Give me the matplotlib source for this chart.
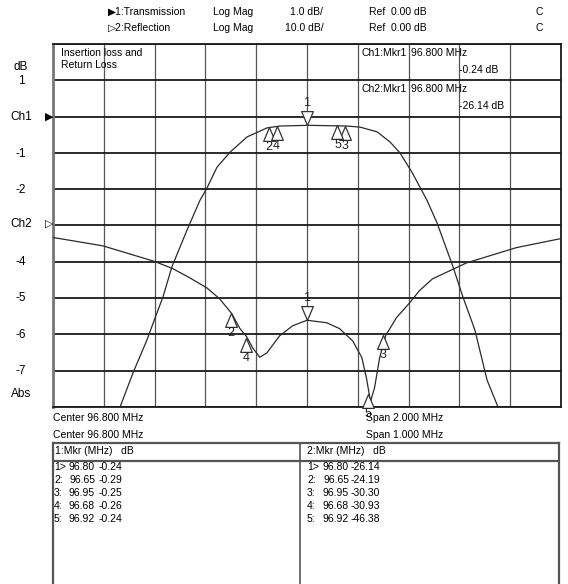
import matplotlib
matplotlib.use("Agg")
import matplotlib.pyplot as plt
from matplotlib.path import Path

plt.rcParams['font.family'] = ['Liberation Sans', 'DejaVu Sans']

# channel 1: transmission (S21), center 96.8 MHz, span 2 MHz, 1 dB/div
f1 = [95.800, 96.064, 96.115, 96.170, 96.209, 96.233, 96.268, 96.328, 96.379, 96.406,
      96.446, 96.497, 96.564, 96.643, 96.694, 96.804, 96.957, 97.009, 97.076, 97.127,
      97.166, 97.213, 97.272, 97.312, 97.375, 97.414, 97.461, 97.509, 97.552, 97.800]
s21 = [-8.0, -8.0, -7.06, -6.15, -5.41, -4.97, -4.14, -3.12, -2.30, -1.97,
       -1.39, -0.98, -0.56, -0.31, -0.26, -0.24, -0.26, -0.29, -0.42, -0.70,
       -1.00, -1.53, -2.30, -2.93, -4.14, -4.97, -5.88, -7.26, -8.0, -8.0]

# channel 2: reflection (S11), center 96.8 MHz, span 1 MHz, 10 dB/div
f2 = [96.300, 96.398, 96.500, 96.536, 96.569, 96.603, 96.628, 96.652, 96.668, 96.681,
      96.693, 96.707, 96.721, 96.746, 96.772, 96.800, 96.839, 96.864, 96.890, 96.908,
      96.917, 96.925, 96.933, 96.943, 96.955, 96.976, 97.002, 97.021, 97.047, 97.114,
      97.212, 97.300]
s11 = [-3.3, -5.6, -9.9, -11.9, -14.4, -17.2, -20.2, -24.3, -28.4, -30.6,
       -33.7, -36.3, -35.1, -30.4, -27.6, -26.1, -26.8, -28.4, -31.8, -36.4,
       -42.0, -48.5, -44.7, -36.4, -30.3, -25.4, -21.3, -18.0, -14.7, -10.3,
       -6.1, -3.6]

# markers
mkr_f = [96.80, 96.65, 96.95, 96.68, 96.92]
mkr1_db = [-0.24, -0.29, -0.25, -0.26, -0.24]
mkr2_db = [-26.14, -24.19, -30.30, -30.93, -46.38]

W, H = 568, 584
def px(x, y):
    return x / W, 1 - y / H

fig = plt.figure(figsize=(W / 100, H / 100), dpi=100)
fig.patch.set_facecolor('white')

rect = [53 / W, 1 - 407 / H, (561 - 53) / W, (407 - 44) / H]
ax = fig.add_axes(rect)
ax.set_xlim(95.8, 97.8)
ax.set_ylim(-8, 2)
ax.set_xticks([95.8 + 0.2 * k for k in range(11)])
ax.set_yticks(range(-8, 3))
ax.tick_params(length=0, labelbottom=False, labelleft=False)
ax.xaxis.grid(True, color='#555555', lw=0.9)
ax.yaxis.grid(True, color='#1a1a1a', lw=1.3)
ax.set_axisbelow(True)
for s in ['top', 'bottom', 'right']:
    ax.spines[s].set_color('#1a1a1a')
    ax.spines[s].set_linewidth(1.3)
ax.spines['left'].set_color('#777777')
ax.spines['left'].set_linewidth(2.0)

ax2 = fig.add_axes(rect)
ax2.set_xlim(96.3, 97.3)
ax2.set_ylim(-50, 50)
ax2.axis('off')
ax2.patch.set_alpha(0)

trace = dict(color='#2a2a2a', lw=0.9)
ax.plot(f1, s21, **trace)
ax2.plot(f2, s11, **trace)

up = Path([(0, 0), (-0.42, -1), (0.42, -1), (0, 0)], closed=True)
down = Path([(0, 0), (-0.42, 1), (0.42, 1), (0, 0)], closed=True)
mk = dict(ms=20, mfc='white', mec='#333333', mew=0.9, ls='none', clip_on=False)
tk = dict(fontsize=9, ha='center', color='#222222', annotation_clip=False)

for a, dbs in [(ax, mkr1_db), (ax2, mkr2_db)]:
    for i, (f, d) in enumerate(zip(mkr_f, dbs)):
        if i == 0:
            a.plot([f], [d], marker=down, **mk)
            a.annotate(str(i + 1), (f, d), xytext=(0, 12), textcoords='offset points',
                       va='bottom', **tk)
        else:
            a.plot([f], [d], marker=up, **mk)
            a.annotate(str(i + 1), (f, d), xytext=(0, -10), textcoords='offset points',
                       va='top', **tk)

fs = 7.5
# header
fig.text(*px(108, 12), '\u25b61:Transmission', fontsize=fs, va='center')
fig.text(*px(108, 28), '\u25b72:Reflection', fontsize=fs, va='center')
fig.text(*px(213, 12), 'Log Mag', fontsize=fs, va='center')
fig.text(*px(213, 28), 'Log Mag', fontsize=fs, va='center')
fig.text(*px(290, 12), '1.0 dB/', fontsize=fs, va='center')
fig.text(*px(285, 28), '10.0 dB/', fontsize=fs, va='center')
fig.text(*px(369, 12), 'Ref  0.00 dB', fontsize=fs, va='center')
fig.text(*px(369, 28), 'Ref  0.00 dB', fontsize=fs, va='center')
fig.text(*px(536, 12), 'C', fontsize=fs, va='center')
fig.text(*px(536, 28), 'C', fontsize=fs, va='center')

# cells inside the graticule
fig.text(*px(61, 53), 'Insertion loss and', fontsize=fs, va='center')
fig.text(*px(61, 65), 'Return Loss', fontsize=fs, va='center')
fig.text(*px(361, 53), 'Ch1:Mkr1', fontsize=fs, va='center')
fig.text(*px(411, 53), '96.800 MHz', fontsize=fs, va='center')
fig.text(*px(459, 70), '-0.24 dB', fontsize=fs, va='center')
fig.text(*px(361, 89), 'Ch2:Mkr1', fontsize=fs, va='center')
fig.text(*px(411, 89), '96.800 MHz', fontsize=fs, va='center')
fig.text(*px(459, 106), '-26.14 dB', fontsize=fs, va='center')

# left scale labels
left = [('dB', 67), ('1', 81), ('Ch1', 117), ('-1', 154), ('-2', 190), ('Ch2', 224),
        ('-4', 262), ('-5', 298), ('-6', 335), ('-7', 371), ('Abs', 394)]
for t, y in left:
    fig.text(*px(21, y), t, fontsize=8.5, ha='center', va='center')
fig.text(*px(49, 117), '\u25b6', fontsize=8, ha='center', va='center', family='DejaVu Sans')
fig.text(*px(49, 224), '\u25b7', fontsize=8, ha='center', va='center', family='DejaVu Sans')

# footer
fig.text(*px(53, 418), 'Center 96.800 MHz', fontsize=fs, va='center')
fig.text(*px(53, 435), 'Center 96.800 MHz', fontsize=fs, va='center')
fig.text(*px(366, 418), 'Span 2.000 MHz', fontsize=fs, va='center')
fig.text(*px(366, 435), 'Span 1.000 MHz', fontsize=fs, va='center')

# marker table
tab = fig.add_axes([53 / W, 0, (559 - 53) / W, (584 - 443) / H])
tab.set_xlim(0, 1)
tab.set_ylim(0, 1)
tab.set_xticks([])
tab.set_yticks([])
tab.spines['bottom'].set_visible(False)
for s in ['top', 'left', 'right']:
    tab.spines[s].set_color('#555555')
    tab.spines[s].set_linewidth(1.6)
tab.axhline(1 - (461 - 443) / (584 - 443), color='#555555', lw=1.6)
tab.axvline((300 - 53) / (559 - 53), color='#555555', lw=1.2)

fig.text(*px(55, 451), '1:Mkr (MHz)   dB', fontsize=fs, va='center')
fig.text(*px(307, 451), '2:Mkr (MHz)   dB', fontsize=fs, va='center')
rows_y = [467, 480, 493, 506, 519]
tags = ['1>', '2:', '3:', '4:', '5:']
for i in range(5):
    y = rows_y[i]
    fig.text(*px(54, y), tags[i], fontsize=fs, va='center')
    fig.text(*px(95, y), '%.2f' % mkr_f[i], fontsize=fs, va='center', ha='right')
    fig.text(*px(122, y), '%.2f' % mkr1_db[i], fontsize=fs, va='center', ha='right')
    fig.text(*px(307, y), tags[i], fontsize=fs, va='center')
    fig.text(*px(349, y), '%.2f' % mkr_f[i], fontsize=fs, va='center', ha='right')
    fig.text(*px(380, y), '%.2f' % mkr2_db[i], fontsize=fs, va='center', ha='right')

fig.savefig('out.png', dpi=100)
